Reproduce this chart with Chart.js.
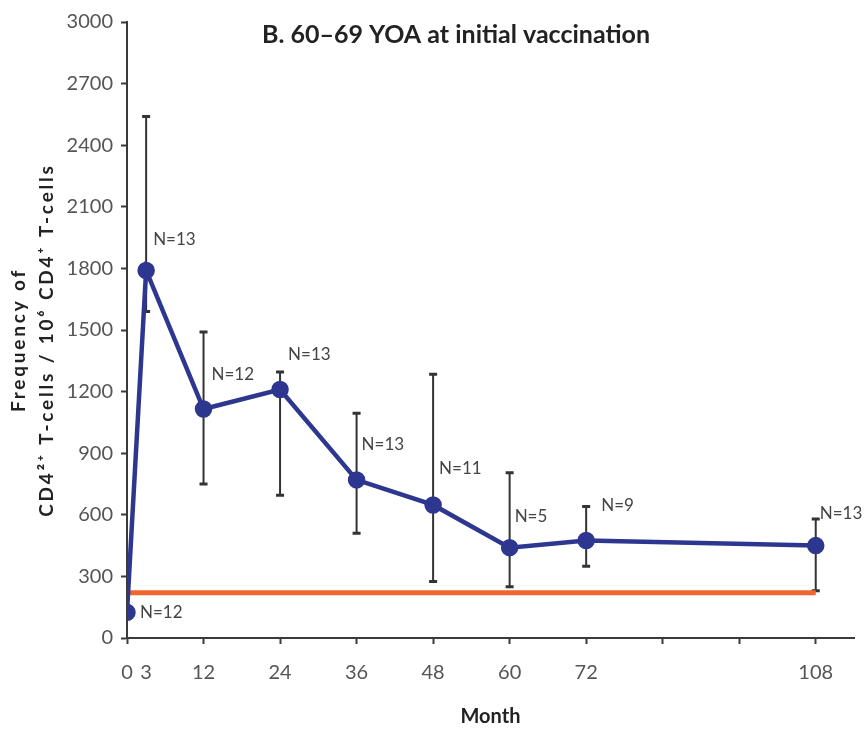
<!DOCTYPE html>
<html>
<head>
<meta charset="utf-8">
<script src="https://cdn.jsdelivr.net/npm/chart.js@4.4.1/dist/chart.umd.min.js"></script>
<style>
  html, body { margin: 0; padding: 0; background: #fff; }
  #wrap { width: 865px; height: 734px; position: relative; }
</style>
</head>
<body>
<div id="wrap"><canvas id="c"></canvas></div>
<script>
// ---- data ----
const months     = [0, 3, 12, 24, 36, 48, 60, 72, 108];
const meanValues = [125, 1790, 1115, 1210, 770, 648, 440, 475, 450];
const errLow     = [null, 1590, 750, 695, 510, 275, 250, 350, 230];
const errHigh    = [null, 2540, 1490, 1295, 1095, 1285, 805, 640, 580];
const nLabels    = ['N=12', 'N=13', 'N=12', 'N=13', 'N=13', 'N=11', 'N=5', 'N=9', 'N=13'];
const thresholdMonths = [0, 108];
const thresholdValues = [220, 220];
const xTickValues = [0, 3, 12, 24, 36, 48, 60, 72, 84, 96, 108];
const xTickLabels = ['0', '3', '12', '24', '36', '48', '60', '72', '', '', '108'];
const chartTitle = 'B. 60–69 YOA at initial vaccination';
const yTitleLines = ['Frequency of', 'CD4²⁺ T-cells / 10⁶ CD4⁺ T-cells'];
const xTitle = 'Month';

const BLUE = '#2d3790';
const ORANGE = '#f0652e';
const AXIS = '#3a3a3a';
const TICKTXT = '#555555';

const errorBarPlugin = {
  id: 'errorBars',
  beforeDatasetsDraw(chart) {
    const ctx = chart.ctx, xs = chart.scales.x, ys = chart.scales.y;
    ctx.save();
    ctx.strokeStyle = '#333';
    months.forEach((m, i) => {
      if (errLow[i] == null || errHigh[i] == null) return;
      const px = xs.getPixelForValue(m);
      const yl = ys.getPixelForValue(errLow[i]);
      const yh = ys.getPixelForValue(errHigh[i]);
      ctx.lineWidth = 2;
      ctx.beginPath();
      ctx.moveTo(px, yl); ctx.lineTo(px, yh);
      ctx.stroke();
      ctx.lineWidth = 3;
      ctx.beginPath();
      ctx.moveTo(px - 4, yh); ctx.lineTo(px + 4, yh);
      ctx.moveTo(px - 4, yl); ctx.lineTo(px + 4, yl);
      ctx.stroke();
    });
    ctx.restore();
  }
};

const textPlugin = {
  id: 'texts',
  afterDraw(chart) {
    const ctx = chart.ctx, xs = chart.scales.x, ys = chart.scales.y;
    const ca = chart.chartArea;
    ctx.save();
    // N labels
    const offs = [[13, 0], [7, -31], [8, -35], [8, -35], [5, -35], [6, -36], [5, -31], [15, -35], [4, -32]];
    ctx.font = '17px Lato, "Open Sans", sans-serif';
    ctx.fillStyle = '#444';
    ctx.textAlign = 'left';
    ctx.textBaseline = 'middle';
    months.forEach((m, i) => {
      const px = xs.getPixelForValue(m) + offs[i][0];
      const py = ys.getPixelForValue(meanValues[i]) + offs[i][1];
      ctx.fillText(nLabels[i], px, py);
    });
    // chart title
    ctx.font = 'bold 25px Lato, "Open Sans", sans-serif';
    ctx.fillStyle = '#222';
    ctx.textAlign = 'center';
    ctx.fillText(chartTitle, ca.left + 329, ca.top + 13);
    // y-axis title (two rotated lines)
    ctx.font = 'bold 19px Lato, "Open Sans", sans-serif';
    ctx.fillStyle = '#222';
    ctx.letterSpacing = '2.8px';
    const cy = 340;
    [19, 47].forEach((x, k) => {
      ctx.save();
      ctx.translate(x, cy);
      ctx.rotate(-Math.PI / 2);
      ctx.textAlign = 'center';
      ctx.textBaseline = 'middle';
      ctx.fillText(yTitleLines[k], 0, 0);
      ctx.restore();
    });
    ctx.restore();
  }
};

new Chart(document.getElementById('c'), {
  type: 'line',
  data: {
    datasets: [
      {
        label: 'threshold',
        data: thresholdMonths.map((m, i) => ({ x: m, y: thresholdValues[i] })),
        borderColor: ORANGE,
        borderWidth: 5,
        pointRadius: 0,
        order: 2
      },
      {
        label: 'mean',
        data: months.map((m, i) => ({ x: m, y: meanValues[i] })),
        borderColor: BLUE,
        backgroundColor: BLUE,
        borderWidth: 4.5,
        pointRadius: 6.5,
        pointBackgroundColor: BLUE,
        pointBorderColor: BLUE,
        tension: 0,
        order: 1
      }
    ]
  },
  options: {
    responsive: true,
    maintainAspectRatio: false,
    animation: false,
    layout: { padding: { top: 22, right: 8, left: 0, bottom: 0 } },
    plugins: { legend: { display: false }, tooltip: { enabled: false }, title: { display: false } },
    scales: {
      x: {
        type: 'linear',
        min: 0,
        max: 114,
        afterBuildTicks(scale) { scale.ticks = xTickValues.map(v => ({ value: v })); },
        afterFit(scale) { scale.height = 96; },
        ticks: {
          autoSkip: false,
          maxRotation: 0,
          padding: 17,
          color: TICKTXT,
          font: { family: 'Lato, "Open Sans", sans-serif', size: 20 },
          callback(value) { const i = xTickValues.indexOf(value); return i >= 0 ? xTickLabels[i] : ''; }
        },
        grid: {
          drawOnChartArea: false,
          drawTicks: true,
          tickLength: 6,
          tickWidth: 2,
          tickColor: (c) => (c.tick && c.tick.value === 3 ? 'rgba(0,0,0,0)' : AXIS)
        },
        border: { display: true, color: AXIS, width: 2 },
        title: {
          display: true,
          text: xTitle,
          color: '#222',
          font: { family: 'Lato, "Open Sans", sans-serif', size: 20, weight: 'bold' },
          padding: { top: 2, bottom: 5 }
        }
      },
      y: {
        type: 'linear',
        min: 0,
        max: 3000,
        afterFit(scale) { scale.width = 127; },
        ticks: {
          stepSize: 300,
          padding: 8,
          color: TICKTXT,
          font: { family: 'Lato, "Open Sans", sans-serif', size: 20 },
          callback(value) { return String(value); }
        },
        grid: {
          drawOnChartArea: false,
          drawTicks: true,
          tickLength: 6,
          tickWidth: 2,
          tickColor: AXIS
        },
        border: { display: true, color: AXIS, width: 2 }
      }
    }
  },
  plugins: [errorBarPlugin, textPlugin]
});
</script>
</body>
</html>
